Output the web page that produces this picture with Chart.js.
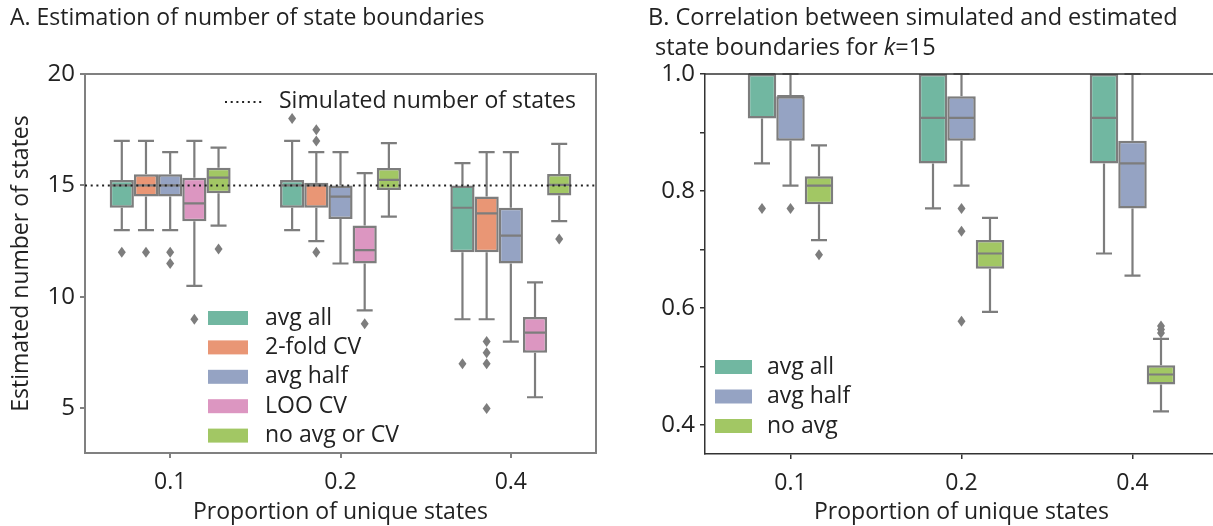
<!DOCTYPE html>
<html>
<head>
<meta charset="utf-8">
<script src="https://cdn.jsdelivr.net/npm/chart.js@4"></script>
<style>
  html, body { margin: 0; padding: 0; background: #fff; overflow: hidden; }
  body { width: 1213px; height: 526px; position: relative; }
  #boxA { position: absolute; left: 0; top: 0; width: 615px; height: 526px; }
  #boxB { position: absolute; left: 615px; top: 0; width: 625px; height: 526px; }
</style>
</head>
<body>
<div id="boxA"><canvas id="chartA"></canvas></div>
<div id="boxB"><canvas id="chartB"></canvas></div>
<script>
const proportions = ["0.1", "0.2", "0.4"];
const simulatedStates = 15;

// each box: [lower whisker, q1, median, q3, upper whisker]
const aAvgAll = [[13, 14, 15, 15.25, 17], [13, 14, 15, 15.25, 17], [9, 12, 14, 15, 16]];
const aAvgAllOut = [[12], [18], [7]];
const aTwoFold = [[13, 14.5, 15, 15.5, 17], [12.5, 14, 15, 15.12, 16.5], [9, 12, 13.75, 14.5, 16.5]];
const aTwoFoldOut = [[12], [17, 17.5, 12], [8, 7.5, 7, 5]];
const aAvgHalf = [[13, 14.5, 15, 15.5, 16.5], [11.5, 13.5, 14.5, 15, 16.5], [8, 11.5, 12.75, 14, 16.5]];
const aAvgHalfOut = [[12, 11.5], [], []];
const aLoo = [[10.5, 13.4, 14.2, 15.35, 17], [9.4, 11.5, 12.1, 13.2, 15.55], [5.5, 7.5, 8.4, 9.1, 10.65]];
const aLooOut = [[9], [8.8], []];
const aNoAvg = [[13.2, 14.65, 15.35, 15.8, 16.7], [13.6, 14.8, 15.25, 15.78, 16.9], [13.4, 14.55, 15.03, 15.52, 16.87]];
const aNoAvgOut = [[12.15], [], [12.6]];

const bAvgAll = [[0.847, 0.924, 1.0, 1.0, 1.0], [0.77, 0.847, 0.925, 1.0, 1.0], [0.693, 0.847, 0.925, 1.0, 1.0]];
const bAvgAllOut = [[0.77], [], []];
const bAvgHalf = [[0.809, 0.886, 0.962, 0.962, 1.0], [0.809, 0.886, 0.925, 0.962, 1.0], [0.655, 0.77, 0.847, 0.886, 1.0]];
const bAvgHalfOut = [[0.77], [0.77, 0.731, 0.577], []];
const bNoAvg = [[0.716, 0.777, 0.809, 0.825, 0.878], [0.593, 0.667, 0.693, 0.716, 0.754], [0.423, 0.469, 0.486, 0.502, 0.547]];
const bNoAvgOut = [[0.691], [], [0.557, 0.563, 0.569]];

const palette = {
  avgAll: "#71b7a1",
  twoFold: "#e99675",
  avgHalf: "#95a3c3",
  loo: "#dc96c1",
  noAvg: "#a2c764"
};
const edgeGray = "#7d7d7d";
const textColor = "#222";
const narrow = "'Liberation Sans Narrow', 'Open Sans', sans-serif";
const open = "'Open Sans', sans-serif";

function boxDatasets(series, catPct) {
  return series.map(s => ({
    label: s.label,
    data: s.stats.map(v => [v[1], v[3]]),
    stats: s.stats,
    outliers: s.out,
    backgroundColor: s.color,
    borderColor: edgeGray,
    borderWidth: 2.5,
    borderSkipped: false,
    barPercentage: 1,
    categoryPercentage: catPct
  }));
}

function diamond(ctx, x, y) {
  ctx.beginPath();
  ctx.moveTo(x, y - 5.5);
  ctx.lineTo(x + 4, y);
  ctx.lineTo(x, y + 5.5);
  ctx.lineTo(x - 4, y);
  ctx.closePath();
  ctx.fill();
}

const boxExtras = {
  id: "boxExtras",
  afterDatasetsDraw(chart, args, opts) {
    const ctx = chart.ctx;
    const y = chart.scales.y;
    const area = chart.chartArea;
    ctx.save();
    ctx.strokeStyle = edgeGray;
    ctx.fillStyle = edgeGray;
    ctx.lineWidth = 2.2;
    chart.data.datasets.forEach((ds, i) => {
      chart.getDatasetMeta(i).data.forEach((bar, j) => {
        const [lo, q1, med, q3, hi] = ds.stats[j];
        const cx = bar.x, half = bar.width / 2, cap = opts.capWidth / 2;
        ctx.beginPath();
        if (hi > q3) {
          ctx.moveTo(cx, y.getPixelForValue(q3));
          ctx.lineTo(cx, y.getPixelForValue(hi));
          ctx.moveTo(cx - cap, y.getPixelForValue(hi));
          ctx.lineTo(cx + cap, y.getPixelForValue(hi));
        }
        if (lo < q1) {
          ctx.moveTo(cx, y.getPixelForValue(q1));
          ctx.lineTo(cx, y.getPixelForValue(lo));
          ctx.moveTo(cx - cap, y.getPixelForValue(lo));
          ctx.lineTo(cx + cap, y.getPixelForValue(lo));
        }
        ctx.moveTo(cx - half + 1, y.getPixelForValue(med));
        ctx.lineTo(cx + half - 1, y.getPixelForValue(med));
        ctx.stroke();
        ds.outliers[j].forEach(v => diamond(ctx, cx, y.getPixelForValue(v)));
      });
    });
    if (opts.refLine != null) {
      const py = y.getPixelForValue(opts.refLine);
      ctx.strokeStyle = textColor;
      ctx.lineWidth = 2;
      ctx.setLineDash([2, 3.7]);
      ctx.beginPath();
      ctx.moveTo(area.left, py);
      ctx.lineTo(area.right, py);
      ctx.stroke();
      ctx.setLineDash([]);
    }
    ctx.restore();
  },
  afterDraw(chart, args, opts) {
    const ctx = chart.ctx;
    const area = chart.chartArea;
    ctx.save();
    // top and right spines
    ctx.strokeStyle = opts.spine;
    ctx.lineWidth = opts.spineWidth;
    ctx.beginPath();
    ctx.moveTo(area.left, area.top);
    ctx.lineTo(area.right, area.top);
    ctx.lineTo(area.right, area.bottom);
    ctx.stroke();

    // box legend
    const lg = opts.legend;
    ctx.font = "23px " + open;
    ctx.textBaseline = "middle";
    ctx.fillStyle = textColor;
    chart.data.datasets.forEach((ds, i) => {
      const cy = lg.y + i * lg.row;
      ctx.fillStyle = ds.backgroundColor;
      ctx.fillRect(lg.x, cy - 7, lg.w, 14);
      ctx.fillStyle = textColor;
      ctx.fillText(ds.label, lg.textX, cy);
    });

    // reference line legend
    if (opts.refLegend) {
      const r = opts.refLegend;
      ctx.strokeStyle = textColor;
      ctx.lineWidth = 2;
      ctx.setLineDash([2, 3.7]);
      ctx.beginPath();
      ctx.moveTo(r.x, r.y);
      ctx.lineTo(r.x + 38, r.y);
      ctx.stroke();
      ctx.setLineDash([]);
      ctx.fillText(r.text, r.x + 54, r.y - 1);
    }

    // panel titles
    opts.titles.forEach(t => {
      let x = t.x;
      t.runs.forEach(([text, italic]) => {
        ctx.font = (italic ? "italic " : "") + t.size + "px " + narrow;
        ctx.fillStyle = textColor;
        ctx.fillText(text, x, t.y);
        x += ctx.measureText(text).width;
      });
    });
    ctx.restore();
  }
};

function axes(cfg) {
  return {
    x: {
      afterFit: s => { s.height = cfg.xHeight; },
      grid: { display: true, drawOnChartArea: false, offset: false, tickLength: 5, color: cfg.spine, lineWidth: cfg.spineWidth },
      border: { display: true, color: cfg.spine, width: cfg.spineWidth },
      ticks: { color: textColor, font: { family: narrow, size: 23 }, padding: 11 },
      title: { display: true, text: "Proportion of unique states", color: textColor, font: { family: narrow, size: 23 }, padding: { top: 0, bottom: 0 } }
    },
    y: {
      min: cfg.min,
      max: cfg.max,
      afterFit: s => { s.width = cfg.yWidth; },
      grid: { display: true, drawOnChartArea: false, tickLength: 5, color: cfg.spine, lineWidth: cfg.spineWidth },
      border: { display: true, color: cfg.spine, width: cfg.spineWidth },
      ticks: {
        stepSize: cfg.step,
        includeBounds: false,
        color: textColor,
        font: { family: open, size: 24 },
        padding: 5,
        callback: cfg.tickLabel
      },
      title: { display: !!cfg.yTitle, text: cfg.yTitle || "", color: textColor, font: { family: open, size: 23 }, padding: { top: 8, bottom: 0 } }
    }
  };
}

new Chart(document.getElementById("chartA"), {
  type: "bar",
  data: {
    labels: proportions,
    datasets: boxDatasets([
      { label: "avg all", stats: aAvgAll, out: aAvgAllOut, color: palette.avgAll },
      { label: "2-fold CV", stats: aTwoFold, out: aTwoFoldOut, color: palette.twoFold },
      { label: "avg half", stats: aAvgHalf, out: aAvgHalfOut, color: palette.avgHalf },
      { label: "LOO CV", stats: aLoo, out: aLooOut, color: palette.loo },
      { label: "no avg or CV", stats: aNoAvg, out: aNoAvgOut, color: palette.noAvg }
    ], 0.71)
  },
  options: {
    responsive: true,
    maintainAspectRatio: false,
    animation: false,
    layout: { padding: { top: 74, right: 19, left: 0, bottom: 0 } },
    scales: axes({
      min: 3, max: 20, step: 5, xHeight: 73, yWidth: 85,
      spine: "#808080", spineWidth: 2,
      yTitle: "Estimated number of states",
      tickLabel: v => String(v)
    }),
    plugins: {
      legend: { display: false },
      tooltip: { enabled: false },
      boxExtras: {
        capWidth: 16,
        refLine: simulatedStates,
        spine: "#808080",
        spineWidth: 2,
        legend: { x: 208, y: 318, row: 29.4, w: 40, textX: 265 },
        refLegend: { x: 225, y: 102, text: "Simulated number of states" },
        titles: [{ x: 10, y: 18, size: 23, runs: [["A. Estimation of number of state boundaries", false]] }]
      }
    }
  },
  plugins: [boxExtras]
});

new Chart(document.getElementById("chartB"), {
  type: "bar",
  data: {
    labels: proportions,
    datasets: boxDatasets([
      { label: "avg all", stats: bAvgAll, out: bAvgAllOut, color: palette.avgAll },
      { label: "avg half", stats: bAvgHalf, out: bAvgHalfOut, color: palette.avgHalf },
      { label: "no avg", stats: bNoAvg, out: bNoAvgOut, color: palette.noAvg }
    ], 0.5)
  },
  options: {
    responsive: true,
    maintainAspectRatio: false,
    animation: false,
    layout: { padding: { top: 74, right: 22, left: 0, bottom: 0 } },
    scales: axes({
      min: 0.35, max: 1.0, step: 0.1, xHeight: 72, yWidth: 90,
      spine: "#333", spineWidth: 1.5,
      tickLabel: v => (Math.round(v * 10) % 2 === 0 ? v.toFixed(1) : "")
    }),
    plugins: {
      legend: { display: false },
      tooltip: { enabled: false },
      boxExtras: {
        capWidth: 16,
        refLine: null,
        spine: "#333",
        spineWidth: 1.5,
        legend: { x: 100, y: 367, row: 29.5, w: 37, textX: 152 },
        refLegend: null,
        titles: [
          { x: 33, y: 18, size: 23.5, runs: [["B. Correlation between simulated and estimated", false]] },
          { x: 40, y: 48, size: 23.5, runs: [["state boundaries for ", false], ["k", true], ["=15", false]] }
        ]
      }
    }
  },
  plugins: [boxExtras]
});
</script>
</body>
</html>
